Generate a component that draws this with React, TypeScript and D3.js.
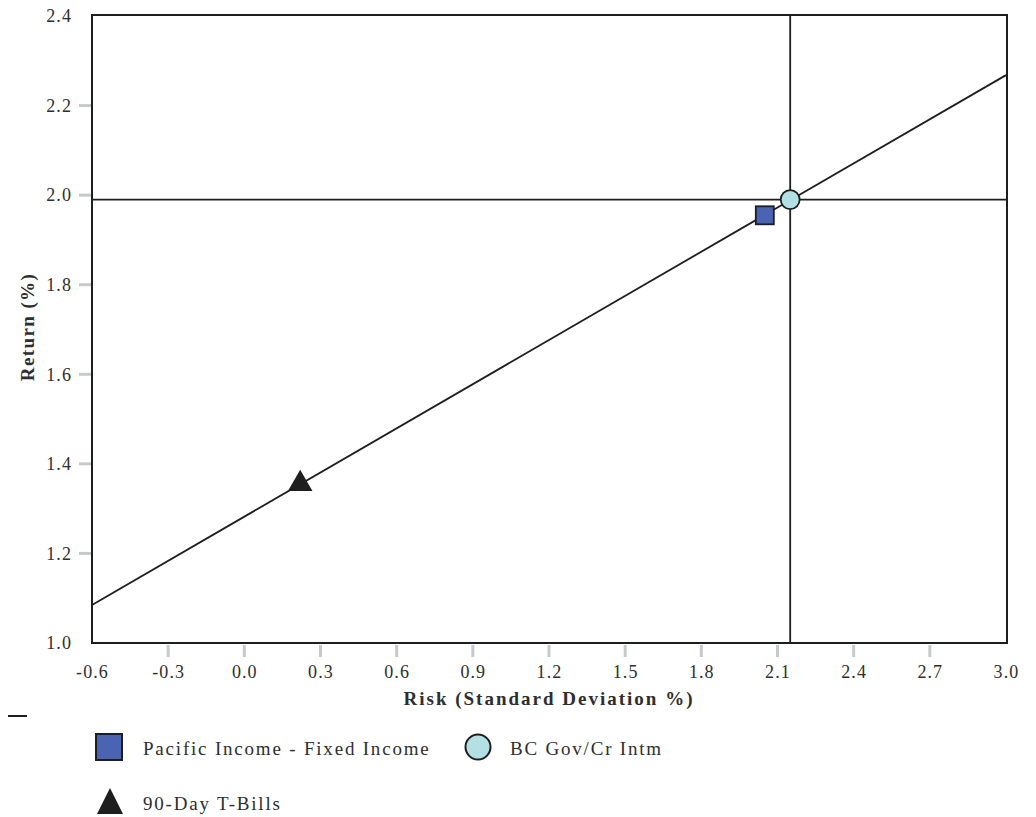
import React from "react";
import * as d3 from "d3";

const xTicks = [-0.6, -0.3, 0.0, 0.3, 0.6, 0.9, 1.2, 1.5, 1.8, 2.1, 2.4, 2.7, 3.0];
const yTicks = [1.0, 1.2, 1.4, 1.6, 1.8, 2.0, 2.2, 2.4];
const seriesNames = ["Pacific Income - Fixed Income", "BC Gov/Cr Intm", "90-Day T-Bills"];
const riskValues = [2.05, 2.15, 0.22];
const returnValues = [1.955, 1.99, 1.355];
const marketLineRisk = [-0.6, 3.0];
const marketLineReturn = [1.085, 2.268];
const benchmarkRisk = 2.15;
const benchmarkReturn = 1.99;

const W = 1036;
const H = 817;
const FONT = "'Liberation Serif', 'Times New Roman', serif";

export default function App() {
  const left = 92, right = 1007, top = 15, bottom = 643;
  const x = d3.scaleLinear().domain([-0.6, 3.0]).range([left, 1006]);
  const y = d3.scaleLinear().domain([1.0, 2.4]).range([643, 16]);
  const line = d3.line<[number, number]>().x(d => x(d[0])).y(d => y(d[1]));
  const mlPts: [number, number][] = marketLineRisk.map((r, i) => [r, marketLineReturn[i]]);
  const tickColor = "#c6cacf";
  const dark = "#1e1e1e";
  const textCol = "#2e2e2e";
  const sym = d3.symbol();

  return (
    <svg width={W} height={H} style={{ position: "absolute", left: 0, top: 0, background: "#fff" }}>
      <defs>
        <clipPath id="plot"><rect x={left} y={top} width={right - left} height={bottom - top} /></clipPath>
      </defs>
      {yTicks.map(t => (
        <g key={"y" + t}>
          {t !== 2.4 && t !== 1.0 && (
            <line x1={79} x2={91} y1={y(t)} y2={y(t)} stroke={tickColor} strokeWidth={3} />
          )}
          <text x={72} y={y(t)} dy="0.35em" textAnchor="end" fontFamily={FONT} fontSize={18} fill={textCol} letterSpacing={1.1}>
            {t.toFixed(1)}
          </text>
        </g>
      ))}
      {xTicks.map(t => (
        <g key={"x" + t}>
          {t !== -0.6 && t !== 3.0 && (
            <line x1={x(t)} x2={x(t)} y1={645} y2={657} stroke={tickColor} strokeWidth={3} />
          )}
          <text x={x(t) + 0.5} y={678} textAnchor="middle" fontFamily={FONT} fontSize={18} fill={textCol} letterSpacing={1.1}>
            {t.toFixed(1)}
          </text>
        </g>
      ))}
      <g clipPath="url(#plot)">
        <line x1={left} x2={right} y1={y(benchmarkReturn)} y2={y(benchmarkReturn)} stroke={dark} strokeWidth={1.8} />
        <line x1={x(benchmarkRisk)} x2={x(benchmarkRisk)} y1={top} y2={bottom} stroke={dark} strokeWidth={1.8} />
        <path d={line(mlPts) || ""} fill="none" stroke={dark} strokeWidth={1.8} />
      </g>
      <rect x={left} y={top} width={right - left} height={bottom - top} fill="none" stroke={dark} strokeWidth={2} />
      <rect x={x(riskValues[0]) - 9} y={y(returnValues[0]) - 9} width={18} height={18} fill="#4a63b3" stroke={dark} strokeWidth={1.8} />
      <circle cx={x(riskValues[1])} cy={y(returnValues[1])} r={9.5} fill="#b2e0e4" stroke={dark} strokeWidth={1.8} />
      <path d={sym.type(d3.symbolTriangle).size(260)() || ""} transform={`translate(${x(riskValues[2])},${y(returnValues[2])})`} fill={dark} />
      <text transform={`translate(34,${327}) rotate(-90)`} textAnchor="middle" fontFamily={FONT} fontSize={19} fontWeight="bold" fill={textCol} letterSpacing={1.4}>
        Return (%)
      </text>
      <text x={549} y={705} textAnchor="middle" fontFamily={FONT} fontSize={19} fontWeight="bold" fill={textCol} letterSpacing={2}>
        Risk (Standard Deviation %)
      </text>
      <line x1={8} x2={27} y1={716} y2={716} stroke={dark} strokeWidth={2} />
      <rect x={96} y={734} width={26} height={26} fill="#4a63b3" stroke={dark} strokeWidth={2} />
      <text x={143} y={755} fontFamily={FONT} fontSize={19} fill={textCol} letterSpacing={1.8}>{seriesNames[0]}</text>
      <circle cx={478} cy={747} r={12.5} fill="#b2e0e4" stroke={dark} strokeWidth={2} />
      <text x={510} y={755} fontFamily={FONT} fontSize={19} fill={textCol} letterSpacing={1.8}>{seriesNames[1]}</text>
      <path d={`M110,788 L123,814 L97,814 Z`} fill={dark} />
      <text x={143} y={810} fontFamily={FONT} fontSize={19} fill={textCol} letterSpacing={1.8}>{seriesNames[2]}</text>
    </svg>
  );
}
